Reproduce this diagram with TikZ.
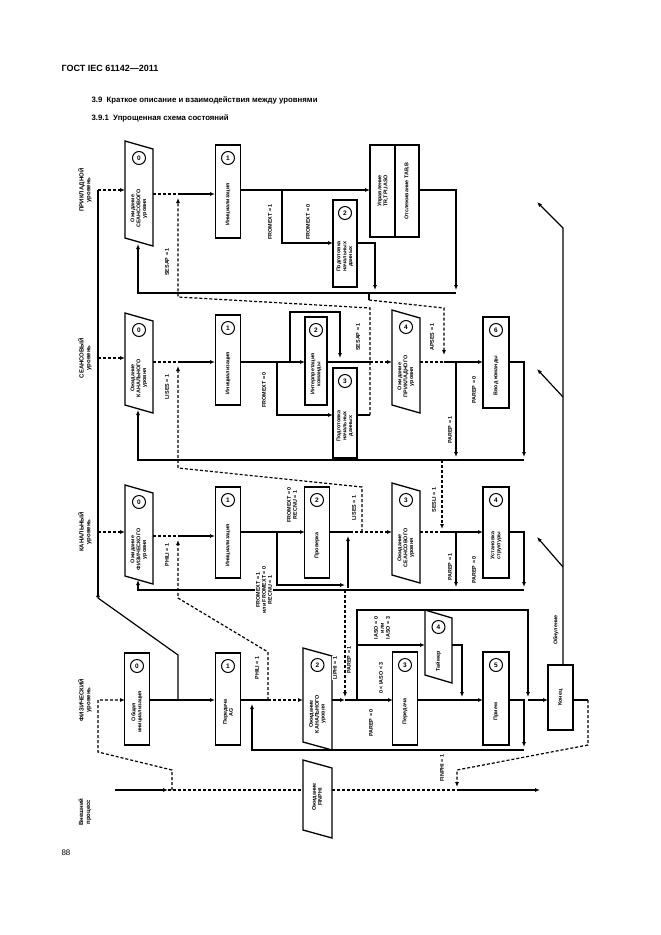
\documentclass[tikz,border=0pt]{standalone}
\usepackage{fontspec}
\setmainfont{Liberation Sans}
\usetikzlibrary{arrows.meta}
\newcommand\RBox[7]{% name xc ytop ybot w text num
  \node[bx,minimum width=#5pt,minimum height={(#4-#3)*1pt}] (#1) at (#2,{(#3+#4)/2}) {};
  \node[num] (#1n) at (#2,#3+13) {#7};
  \node[tx] (#1t) at (#2,{(#3+26+#4)/2}) {#6};}
\newcommand\PBox{\PBoxA}
\newcommand\PBoxA[7]{% name x1 ytop ybot x2 text num
  \draw[line width=1.3pt] (#2,#3)--(#5,#3+8)--(#5,#4+8)--(#2,#4)--cycle;
  \coordinate (#1) at ({(#2+#5)/2},{(#3+#4)/2+4});
  \node[num] (#1n) at ({(#2+#5)/2},#3+17) {#7};
  \node[tx] (#1t) at ({(#2+#5)/2},{(#3+30+#4+8)/2}) {#6};}
\begin{document}
\begin{tikzpicture}[x=1pt,y=-1pt,font=\bfseries\fontsize{5.4}{5.9}\selectfont,
  ln/.style={line width=1.2pt},
  ar/.style={-{Latex[length=5pt,width=4pt]}},
  dsh/.style={dash pattern=on 3pt off 2pt},
  bx/.style={draw,line width=1.4pt,inner sep=0pt},
  num/.style={draw,circle,line width=1pt,minimum size=13pt,inner sep=0pt,font=\bfseries\fontsize{6.5}{6.5}\selectfont},
  tx/.style={rotate=90,align=center,inner sep=1pt},
  lb/.style={rotate=90,align=center,inner sep=1pt,fill=white},
  lv/.style={rotate=90,align=center,font=\bfseries\fontsize{6}{6.8}\selectfont}]
\useasboundingbox (0,0) rectangle (661,935);
\node[anchor=west,font=\bfseries\fontsize{9}{10}\selectfont] (h1) at (58,68) {ГОСТ IEC 61142—2011};
\node[anchor=west,font=\bfseries\fontsize{7.8}{9}\selectfont] (h2) at (88,100) {3.9\ \ Краткое описание и взаимодействия между уровнями};
\node[anchor=west,font=\bfseries\fontsize{7.8}{9}\selectfont] (h3) at (88,118) {3.9.1\ \ Упрощенная схема состояний};
\node[anchor=west,font=\fontsize{8}{9}\selectfont] (pg) at (58,853) {88};
% level labels
\node[lv] (L1) at (85,190) {ПРИКЛАДНОЙ\\уровень};
\node[lv] (L2) at (85,358) {СЕАНСОВЫЙ\\уровень};
\node[lv] (L3) at (85,532) {КАНАЛЬНЫЙ\\уровень};
\node[lv] (L4) at (85,700) {ФИЗИЧЕСКИЙ\\уровень};
\node[lv] (L5) at (85,812) {Внешний\\процесс};
% application level
\PBox{a0}{125}{141}{238}{153}{Ожидание\\СЕАНСОВОГО\\уровня}{0}
\RBox{a1}{228}{145}{238}{25}{Инициализация}{1}
\RBox{a2}{345}{200}{287}{24}{Подготовка\\начальных\\данных}{2}
\node[bx,minimum width=49pt,minimum height=92pt] (a3) at (394.5,191) {};
\draw[line width=1.3pt] (395,145)--(395,237);
\node[tx] (a3t1) at (383,191) {Управление\\TR,TPI,IASO};
\node[tx] (a3t2) at (407,191) {Отслеживание TAB,B};
% session level
\PBox{s0}{125}{313}{405}{153}{Ожидание\\КАНАЛЬНОГО\\уровня}{0}
\RBox{s1}{228}{315}{405}{25}{Инициализация}{1}
\RBox{s2}{316}{317}{405}{22}{Интерпретация\\команды}{2}
\RBox{s3}{345}{368}{458}{24}{Подготовка\\начальных\\данных}{3}
\PBox{s4}{392}{310}{405}{420}{Ожидание\\ПРИКЛАДНОГО\\уровня}{4}
\RBox{s6}{496}{317}{408}{26}{Ввод команды}{6}
% channel level
\PBox{c0}{125}{485}{576}{153}{Ожидание\\ФИЗИЧЕСКОГО\\уровня}{0}
\RBox{c1}{228}{487}{578}{25}{Инициализация}{1}
\RBox{c2}{317}{487}{578}{25}{Проверка}{2}
\PBox{c3}{392}{483}{575}{420}{Ожидание\\СЕАНСОВОГО\\уровня}{3}
\RBox{c4}{496}{487}{578}{26}{Установка\\структуры}{4}
% physical level
\RBox{p0}{137}{653}{745}{25}{Общая\\инициализация}{0}
\RBox{p1}{228}{653}{745}{25}{Передача\\AG}{1}
\PBox{p2}{303}{648}{742}{332}{Ожидание\\КАНАЛЬНОГО\\уровня}{2}
\RBox{p3}{405}{652}{745}{25}{Передача}{3}
\PBox{p4}{425}{610}{675}{452}{Таймер}{4}
\RBox{p5}{496}{652}{745}{26}{Прием}{5}
\node[bx,minimum width=25pt,minimum height=65pt] (pk) at (560.5,697.5) {};
\node[tx] (pkt) at (560.5,697.5) {Конец};
% external
\draw[line width=1.3pt] (303,760)--(332,768)--(332,838)--(303,830)--cycle;
\coordinate (ex) at (317,797);
\node[tx] (ext) at (317,797) {Ожидание\\FINPHI};

% ---------- application connectors
\draw[ln] (98,595)--(98,190);
\draw[ln,dsh,ar] (98,190)--(125,190);
\draw[ln,dsh] (153,194)--(178,194);
\draw[ln,ar] (178,194)--(215,194);
\draw[ln,ar] (240,190)--(370,190);
\draw[ln,ar] (282,190)--(282,243)--(333,243);
\draw[ln,ar] (357,243)--(375,243)--(375,290);
\draw[ln,ar] (419,190)--(456,190)--(456,290);
\draw[ln,ar] (456,293)--(138,293)--(138,244);
\draw[ln,dsh,ar] (370,415)--(370,308)--(178,297)--(178,198);
\draw[ln] (357,415)--(370,415);
\draw[ln] (369,293)--(369,300);
\draw[ln,dsh,ar] (369,300)--(444,308)--(444,355);
\node[lb] (lA1) at (270,222) {FROMEXT = 1};
\node[lb] (lA2) at (308,222) {FROMEXT = 0};
\node[lb] (lA3) at (167,262) {SESAP = 1};
% ---------- session connectors
\draw[ln,dsh,ar] (98,358)--(125,358);
\draw[ln,dsh] (153,362)--(178,362);
\draw[ln,ar] (178,362)--(215,362);
\draw[ln,ar] (240,362)--(305,362);
\draw[ln,ar] (277,362)--(277,415)--(333,415);
\draw[ln,ar] (290,362)--(290,312)--(340,312)--(340,358);
\draw[ln] (327,362)--(370,362);
\draw[ln,dsh,ar] (370,362)--(392,362);
\draw[ln,dsh] (420,362)--(444,362);
\draw[ln,ar] (444,362)--(483,362);
\draw[ln,ar] (456,362)--(456,457);
\draw[ln,ar] (509,362)--(524,362)--(524,457);
\draw[ln,ar] (524,460)--(138,460)--(138,410);
\draw[ln,dsh,ar] (362,532)--(362,487)--(178,468)--(178,366);
\node[lb] (lS1) at (167,387) {LISES = 1};
\node[lb] (lS2) at (264,390) {FROMEXT = 0};
\node[lb] (lS3) at (358,337) {SESAP = 1};
\node[lb] (lS4) at (432,337) {APSES = 1};
\node[lb] (lS5) at (450,430) {PAREP = 1};
\node[lb] (lS6) at (474,390) {PAREP = 0};
% ---------- channel connectors
\draw[ln,dsh,ar] (98,532)--(125,532);
\draw[ln,dsh] (153,536)--(178,536);
\draw[ln,ar] (178,536)--(215,536);
\draw[ln,ar] (240,532)--(305,532);
\draw[ln,ar] (277,532)--(277,585)--(345,585);
\draw[ln,ar] (348,588)--(348,536);
\draw[ln] (330,532)--(350,532);
\draw[ln,dsh,ar] (350,532)--(392,532);
\draw[ln,dsh] (420,532)--(442,532);
\draw[ln,ar] (442,532)--(483,532);
\draw[ln,dsh,ar] (442,460)--(442,529);
\draw[ln,ar] (456,532)--(456,587);
\draw[ln,ar] (509,532)--(524,532)--(524,587);
\draw[ln,ar] (524,590)--(138,590)--(138,580);
\node[lb] (lC1) at (167,555) {PHILI = 1};
\node[lb] (lC2) at (292,505) {FROMEXT = 0\\RECNU = 1};
\node[lb] (lC3) at (264,590) {FROMEXT = 1\\или FROMEXT = 0\\RECNU = 1};
\node[lb] (lC4) at (354,508) {LISES = 1};
\node[lb] (lC5) at (434,500) {SESLI = 1};
\node[lb] (lC6) at (450,567) {PAREP = 1};
\node[lb] (lC7) at (474,570) {PAREP = 0};
% ---------- physical connectors
\draw[ln,ar] (178,700)--(178,655)--(98,598)--(98,592);
\draw[ln,ar] (150,700)--(215,700);
\draw[ln] (240,700)--(268,700);
\draw[ln,dsh,ar] (268,700)--(303,700);
\draw[ln,dsh,ar] (268,700)--(268,652)--(178,598)--(178,540);
\draw[ln,ar] (524,750)--(252,750)--(252,704);
\draw[ln,ar] (332,700)--(345,700);
\draw[ln,dsh,ar] (345,590)--(345,697);
\draw[ln,ar] (345,700)--(393,700);
\draw[ln,ar] (357,700)--(357,610)--(528,610)--(528,697);
\draw[ln] (528,700)--(536,700);
\draw[ln,ar] (536,700)--(548,700);
\draw[ln,ar] (357,645)--(425,645);
\draw[ln,ar] (452,645)--(462,645)--(462,697);
\draw[ln,ar] (418,700)--(483,700);
\draw[ln,ar] (509,700)--(524,700)--(524,747);
\draw[ln,ar] (563,665)--(563,228)--(537,202);
\draw[ln,ar] (563,397)--(537,369);
\draw[ln,ar] (563,567)--(537,537);
\draw[ln] (573,700)--(588,700);
\draw[ln,dsh,ar] (588,700)--(588,745)--(457,770)--(457,787);
\node[lb] (lP1) at (257,668) {PHILI = 1};
\node[lb] (lP2) at (335,668) {LIPHI = 1};
\node[lb] (lP3) at (349,660) {PAREP = 1};
\node[lb] (lP4) at (371,723) {PAREP = 0};
\node[lb] (lP5) at (381,678) {0 < IASO < 3};
\node[lb] (lP6) at (382,628) {IASO = 0\\или\\IASO = 3};
\node[lb] (lP7) at (556,630) {Обнуление};
\node[lb] (lP8) at (442,768) {FINPHI = 1};
% ---------- external connectors
\draw[ln,ar] (115,790)--(168,790);
\draw[ln,dsh] (168,790)--(303,790);
\draw[ln,dsh,ar] (172,790)--(172,770)--(98,752)--(98,700)--(125,700);
\draw[ln,dsh] (332,790)--(457,790);
\draw[ln,ar] (457,790)--(540,790);
\end{tikzpicture}
\end{document}
